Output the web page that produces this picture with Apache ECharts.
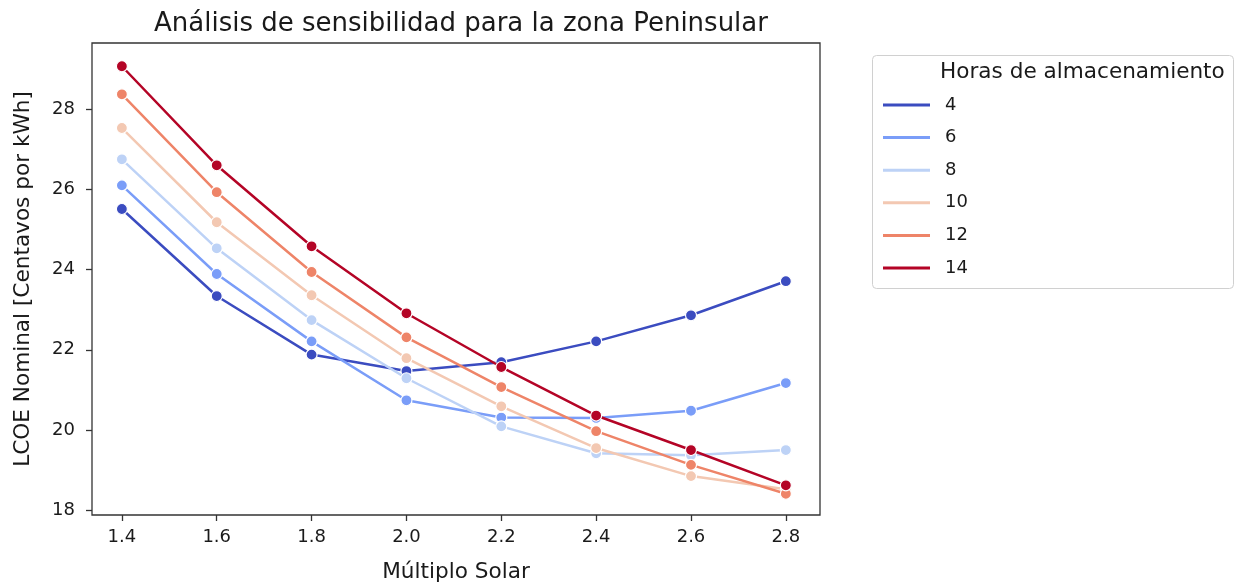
<!DOCTYPE html>
<html>
<head>
<meta charset="utf-8">
<script src="https://cdn.jsdelivr.net/npm/echarts@6/dist/echarts.min.js"></script>
<style>
  html, body { margin: 0; padding: 0; background: #fff; }
  #chart { width: 1238px; height: 588px; }
</style>
</head>
<body>
<div id="chart"></div>
<script>
// Solar multiple on the x axis
const solarMultiple = [1.4, 1.6, 1.8, 2.0, 2.2, 2.4, 2.6, 2.8];

// Nominal LCOE (cents per kWh) for each storage duration
const h4  = [25.51, 23.34, 21.88, 21.47, 21.69, 22.21, 22.86, 23.71];
const h6  = [26.10, 23.89, 22.21, 20.74, 20.31, 20.30, 20.48, 21.17];
const h8  = [26.75, 24.53, 22.74, 21.29, 20.09, 19.42, 19.37, 19.50];
const h10 = [27.53, 25.18, 23.36, 21.79, 20.59, 19.55, 18.85, 18.52];
const h12 = [28.37, 25.93, 23.94, 22.31, 21.07, 19.97, 19.13, 18.41];
const h14 = [29.07, 26.60, 24.58, 22.91, 21.57, 20.36, 19.50, 18.62];

const storageHours = ['4', '6', '8', '10', '12', '14'];
const seriesValues = [h4, h6, h8, h10, h12, h14];

const xTicks = [1.4, 1.6, 1.8, 2.0, 2.2, 2.4, 2.6, 2.8];
const yTicks = [18, 20, 22, 24, 26, 28];

// coolwarm colormap sampled at the storage-hour positions
const palette = ['#3b4cc0', '#7a9df8', '#bdd2f6', '#f3c8b2', '#ee8468', '#b40426'];

const FONT = 'DejaVu Sans';
const TEXT = '#1a1a1a';
const FRAME = '#333333';

const chart = echarts.init(document.getElementById('chart'), null, { renderer: 'canvas' });

const series = storageHours.map((name, i) => ({
  name: name,
  type: 'line',
  data: solarMultiple.map((x, j) => [x, seriesValues[i][j]]),
  symbol: 'circle',
  symbolSize: 11,
  lineStyle: { color: palette[i], width: 2.5 },
  itemStyle: { color: palette[i], borderColor: '#ffffff', borderWidth: 1.2 },
  emphasis: { disabled: true },
  animation: false,
  z: 2 + i
}));

chart.setOption({
  backgroundColor: '#ffffff',
  animation: false,
  title: {
    text: 'Análisis de sensibilidad para la zona Peninsular',
    left: 456,
    textAlign: 'center',
    top: 6,
    textStyle: { fontFamily: FONT, fontSize: 26, fontWeight: 'normal', color: TEXT }
  },
  grid: {
    left: 92, right: 418, top: 43, bottom: 73,
    show: true, borderColor: FRAME, borderWidth: 1.3, backgroundColor: 'transparent'
  },
  xAxis: {
    type: 'value',
    min: 1.337, max: 2.872,
    name: 'Múltiplo Solar',
    nameLocation: 'middle',
    nameGap: 46,
    nameTextStyle: { fontFamily: FONT, fontSize: 21.6, color: TEXT },
    axisLine: { show: false },
    splitLine: { show: false },
    axisTick: { show: true, inside: false, length: 6, customValues: xTicks, lineStyle: { color: FRAME, width: 1.3 } },
    axisLabel: {
      customValues: xTicks, margin: 13,
      fontFamily: FONT, fontSize: 18, color: TEXT,
      formatter: v => v.toFixed(1)
    }
  },
  yAxis: {
    type: 'value',
    min: 17.88, max: 29.65,
    name: 'LCOE Nominal [Centavos por kWh]',
    nameLocation: 'middle',
    nameGap: 58,
    nameRotate: 90,
    nameTextStyle: { fontFamily: FONT, fontSize: 21.6, color: TEXT },
    axisLine: { show: false },
    splitLine: { show: false },
    axisTick: { show: true, inside: false, length: 6, customValues: yTicks, lineStyle: { color: FRAME, width: 1.3 } },
    axisLabel: {
      customValues: yTicks, margin: 17,
      fontFamily: FONT, fontSize: 18, color: TEXT,
      formatter: v => String(v)
    }
  },
  legend: {
    orient: 'vertical',
    left: 878,
    top: 89,
    itemWidth: 47,
    itemHeight: 3,
    itemGap: 10.6,
    icon: 'rect',
    data: storageHours,
    itemStyle: { borderWidth: 0 },
    textStyle: { fontFamily: FONT, fontSize: 18, color: TEXT, lineHeight: 22, padding: [0, 0, 0, 10] },
    selectedMode: false
  },
  graphic: [
    {
      type: 'rect',
      shape: { x: 872.5, y: 55.5, width: 361, height: 233, r: 4 },
      style: { fill: '#ffffff', stroke: '#d0d0d0', lineWidth: 1 },
      z: -1
    },
    {
      type: 'text',
      x: 940, y: 72,
      style: {
        text: 'Horas de almacenamiento',
        fontFamily: FONT, fontSize: 21.6, fill: TEXT,
        textVerticalAlign: 'middle', verticalAlign: 'middle'
      },
      z: 10
    }
  ],
  series: series
});
</script>
</body>
</html>
